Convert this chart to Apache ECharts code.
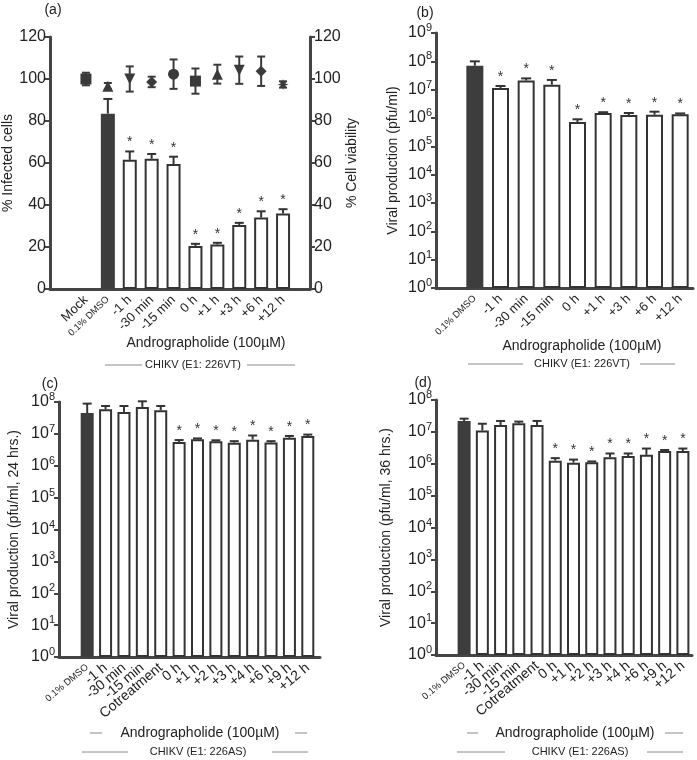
<!DOCTYPE html>
<html><head><meta charset="utf-8">
<script src="https://cdn.jsdelivr.net/npm/echarts@6/dist/echarts.min.js"></script>
<style>html,body{margin:0;padding:0;background:#fff}#c{width:697px;height:760px}</style>
</head><body><div id="c"></div>
<script>
// ---------------- DATA ----------------
// Panel (a)
const catsA = ['Mock','0.1% DMSO','-1 h','-30 min','-15 min','0 h','+1 h','+3 h','+6 h','+12 h'];
const infectedA   = [null, 83.5, 61.5, 62, 59.5, 20.5, 21.2, 30.5, 34, 36];
const infectedHiA = [null, 90.5, 65.5, 64.3, 63, 21.5, 22, 31.5, 37, 38];
const sigA        = [0, 0, 1, 1, 1, 1, 1, 1, 1, 1];
const viabilityA    = [100, 96.6, 100, 98.6, 102.3, 99, 102.3, 104.2, 103.7, 97.4];
const viabilityErrA = [3, 1.5, 6, 2.5, 7, 6, 4.5, 6.5, 7, 1.5];
const ticksA = [0, 20, 40, 60, 80, 100, 120];

// Panel (b)
const catsB = ['0.1% DMSO','-1 h','-30 min','-15 min','0 h','+1 h','+3 h','+6 h','+12 h'];
const titerB   = [7e7, 1.15e7, 2.1e7, 1.5e7, 7.2e5, 1.5e6, 1.27e6, 1.3e6, 1.35e6];
const titerHiB = [1.0e8, 1.35e7, 2.5e7, 2.2e7, 9e5, 1.6e6, 1.5e6, 1.67e6, 1.45e6];
const sigB     = [0, 1, 1, 1, 1, 1, 1, 1, 1];
const expB = [0, 9];

// Panel (c)
const catsCD = ['0.1% DMSO','-1 h','-30 min','-15 min','Cotreatment','0 h','+1 h','+2 h','+3 h','+4 h','+6 h','+9 h','+12 h'];
const titerC   = [4.5e7, 5.9e7, 4.9e7, 7e7, 5.5e7, 5.6e6, 6.8e6, 5.9e6, 5.3e6, 6.6e6, 5.4e6, 7.5e6, 8.5e6];
const titerHiC = [8.9e7, 7.5e7, 7.5e7, 1.05e8, 7.5e7, 6.4e6, 7.2e6, 6.3e6, 5.9e6, 8.9e6, 5.9e6, 8.6e6, 9.5e6];
const sigC     = [0, 0, 0, 0, 0, 1, 1, 1, 1, 1, 1, 1, 1];
const expC = [0, 8];

// Panel (d)
const titerD   = [2.2e7, 1.1e7, 1.65e7, 1.85e7, 1.65e7, 1.25e6, 1.08e6, 1.12e6, 1.6e6, 1.75e6, 1.9e6, 2.5e6, 2.5e6];
const titerHiD = [2.6e7, 1.8e7, 2.2e7, 2.1e7, 2.2e7, 1.5e6, 1.35e6, 1.18e6, 2.1e6, 2.1e6, 3.0e6, 2.7e6, 3.0e6];
const sigD     = [0, 0, 0, 0, 0, 1, 1, 1, 1, 1, 1, 1, 1];
const expD = [0, 8];

// ---------------- STYLE ----------------
const FONT = '"Liberation Sans", Arial, sans-serif';
const AX = '#454545', INK = '#333', DARK = '#3d3d3d', TXT = '#222';
const starPath = (function () {
  let d = 'path://';
  for (let k = 0; k < 16; k++) {
    const r = k % 2 ? 2.2 : 5, a = Math.PI * k / 8 - Math.PI / 2;
    d += (k ? 'L' : 'M') + (5 + r * Math.cos(a)).toFixed(2) + ',' + (5 + r * Math.sin(a)).toFixed(2);
  }
  return d + 'Z';
})();
const invTri = 'path://M0,0L10,0L5,9Z';
const SYMS_A = ['rect', 'triangle', invTri, 'diamond', 'circle', 'rect', 'triangle', invTri, 'diamond', starPath];

const grids = [], xAxes = [], yAxes = [], series = [], graphics = [];

function errUp(cap) {
  return function (params, api) {
    const x = api.value(0), v = api.value(1), hi = api.value(2), s = api.value(3);
    const p0 = api.coord([x, v]), p1 = api.coord([x, hi]);
    const st = { stroke: INK, lineWidth: 2 };
    const ch = [
      { type: 'line', shape: { x1: p0[0], y1: p0[1], x2: p1[0], y2: p1[1] }, style: st },
      { type: 'line', shape: { x1: p1[0] - cap, y1: p1[1], x2: p1[0] + cap, y2: p1[1] }, style: st }
    ];
    if (s) ch.push({ type: 'text', style: { text: '*', x: p1[0], y: p1[1] - 2, align: 'center', verticalAlign: 'bottom', fontSize: 14, fill: INK, fontFamily: FONT } });
    return { type: 'group', children: ch };
  };
}
function errBoth(cap) {
  return function (params, api) {
    const x = api.value(0), v = api.value(1), e = api.value(2);
    const a = api.coord([x, v - e]), b = api.coord([x, v + e]);
    const st = { stroke: '#3a3a3a', lineWidth: 2 };
    return { type: 'group', children: [
      { type: 'line', shape: { x1: a[0], y1: a[1], x2: b[0], y2: b[1] }, style: st },
      { type: 'line', shape: { x1: a[0] - cap, y1: a[1], x2: a[0] + cap, y2: a[1] }, style: st },
      { type: 'line', shape: { x1: b[0] - cap, y1: b[1], x2: b[0] + cap, y2: b[1] }, style: st }
    ] };
  };
}

function panel(c) {
  const gF = grids.length;
  grids.push({ left: c.frame[0], top: c.top, width: c.frame[1] - c.frame[0], height: c.height });
  const gD = grids.length;
  grids.push({ left: c.data[0], top: c.top, width: c.data[1] - c.data[0], height: c.height });
  xAxes.push({ gridIndex: gF, type: 'value', min: 0, max: 1, position: 'bottom',
    axisLine: { show: true, onZero: false, lineStyle: { color: AX, width: 3 } },
    axisTick: { show: false }, axisLabel: { show: false }, splitLine: { show: false } });
  const xD = xAxes.length;
  xAxes.push({ gridIndex: gD, type: 'category',
    data: c.cats.map(s => s.indexOf('DMSO') >= 0 ? { value: s, textStyle: { fontSize: 9.5 } } : s),
    axisLine: { show: false }, axisTick: { show: false }, splitLine: { show: false },
    axisLabel: { interval: 0, rotate: c.rot, fontSize: c.labelSize, color: TXT, margin: 9, fontFamily: FONT } });
  const scale = c.log
    ? { type: 'log', logBase: 10, min: Math.pow(10, c.exps[0]), max: Math.pow(10, c.exps[1]), splitNumber: c.exps[1] - c.exps[0] }
    : { type: 'value', min: c.ticks[0], max: c.ticks[c.ticks.length - 1], interval: c.ticks[1] - c.ticks[0] };
  const label = c.log
    ? { formatter: v => '{b|10}{s|' + Math.round(Math.log10(v)) + '}', margin: 4,
        rich: { b: { fontSize: 16, color: TXT, fontFamily: FONT }, s: { fontSize: 11, color: TXT, fontFamily: FONT, padding: [0, 0, 10, 0] } } }
    : { fontSize: 16, color: TXT, margin: 4, fontFamily: FONT };
  const common = {
    gridIndex: gF, nameLocation: 'middle', nameRotate: 90,
    nameTextStyle: { fontSize: 14, color: TXT, fontFamily: FONT },
    axisLine: { show: true, onZero: false, lineStyle: { color: AX, width: 3 } },
    axisTick: { show: true, length: 5, lineStyle: { color: AX, width: 2 } },
    minorTick: { show: false }, splitLine: { show: false }, axisLabel: label
  };
  yAxes.push(Object.assign({}, common, scale, { position: 'left', name: c.yName, nameGap: c.nameGap }));
  if (c.rightName) yAxes.push(Object.assign({}, common, scale, { position: 'right', name: c.rightName, nameGap: c.rightGap }));
  const yD = yAxes.length;
  yAxes.push(Object.assign({ gridIndex: gD, show: false, splitLine: { show: false } }, scale));

  series.push({ type: 'bar', xAxisIndex: xD, yAxisIndex: yD, barWidth: c.barW, z: 2,
    itemStyle: { color: '#fff', borderColor: INK, borderWidth: 2 },
    data: c.values.map(v => v == null ? '-' : v).map((v, i) => (c.cats[i].indexOf('DMSO') >= 0 && v !== '-')
      ? { value: v, itemStyle: { color: DARK, borderColor: DARK } } : v) });
  series.push({ type: 'custom', xAxisIndex: xD, yAxisIndex: yD, z: 3, renderItem: errUp(c.cap),
    data: c.values.map((v, i) => v == null ? null : [i, v, c.hi[i], c.sig[i]]).filter(Boolean) });
  if (c.viab) {
    series.push({ type: 'custom', xAxisIndex: xD, yAxisIndex: yD, z: 4, renderItem: errBoth(4),
      data: c.viab.map((v, i) => [i, v, c.viabErr[i]]) });
    series.push({ type: 'scatter', xAxisIndex: xD, yAxisIndex: yD, z: 5, symbolSize: 11,
      itemStyle: { color: '#3a3a3a', opacity: 1 },
      data: c.viab.map((v, i) => ({ value: [i, v], symbol: SYMS_A[i] })) });
  }
  graphics.push({ type: 'text', x: c.letter[0], y: c.letter[1], style: { text: c.letterText, fontSize: 14, fill: TXT, fontFamily: FONT, align: 'center', verticalAlign: 'middle' } });
  graphics.push({ type: 'text', x: c.andro[0], y: c.andro[1], style: { text: 'Andrographolide (100\u00b5M)', fontSize: 14, fill: TXT, fontFamily: FONT, align: 'center', verticalAlign: 'middle' } });
  graphics.push({ type: 'text', x: c.chikv[0], y: c.chikv[1], style: { text: c.chikvText, fontSize: 11, fill: TXT, fontFamily: FONT, align: 'center', verticalAlign: 'middle' } });
  (c.lines || []).forEach(l => graphics.push({ type: 'line', shape: { x1: l[0], y1: l[2], x2: l[1], y2: l[2] }, style: { stroke: '#8a8a8a', lineWidth: 1 } }));
}

panel({ frame: [50, 310], data: [75, 294], top: 37, height: 252, cats: catsA, values: infectedA, hi: infectedHiA, sig: sigA,
  ticks: ticksA, yName: '% Infected cells', nameGap: 28, rightName: '% Cell viability', rightGap: 35,
  viab: viabilityA, viabErr: viabilityErrA, barW: 14, cap: 4.5, rot: 44, labelSize: 13,
  letter: [53, 10], letterText: '(a)', andro: [206, 343], chikv: [193, 365], chikvText: 'CHIKV (E1: 226VT)',
  lines: [[105, 142, 365], [247, 295, 365]] });

panel({ frame: [436, 693], data: [462, 693], top: 33, height: 255, cats: catsB, values: titerB, hi: titerHiB, sig: sigB,
  log: true, exps: expB, yName: 'Viral production (pfu/ml)', nameGap: 36, barW: 17, cap: 5, rot: 44, labelSize: 13,
  letter: [425, 13], letterText: '(b)', andro: [582, 346], chikv: [582, 364], chikvText: 'CHIKV (E1: 226VT)',
  lines: [[468, 523, 364], [640, 675, 364]] });

panel({ frame: [59, 320], data: [78, 317], top: 402, height: 255, cats: catsCD, values: titerC, hi: titerHiC, sig: sigC,
  log: true, exps: expC, yName: 'Viral production (pfu/ml, 24 hrs.)', nameGap: 38, barW: 13, cap: 4.5, rot: 40, labelSize: 14,
  letter: [50, 384], letterText: '(c)', andro: [200, 733], chikv: [198, 752], chikvText: 'CHIKV (E1: 226AS)',
  lines: [[90, 102, 733], [295, 307, 733], [82, 128, 752], [272, 308, 752]] });

panel({ frame: [436, 692], data: [455, 692], top: 400, height: 255, cats: catsCD, values: titerD, hi: titerHiD, sig: sigD,
  log: true, exps: expD, yName: 'Viral production (pfu/ml, 36 hrs.)', nameGap: 43, barW: 13, cap: 4.5, rot: 40, labelSize: 14,
  letter: [423, 383], letterText: '(d)', andro: [575, 733], chikv: [580, 752], chikvText: 'CHIKV (E1: 226AS)',
  lines: [[467, 478, 733], [665, 683, 733], [457, 505, 752], [647, 683, 752]] });

const chart = echarts.init(document.getElementById('c'), null, { renderer: 'canvas' });
chart.setOption({ animation: false, backgroundColor: '#fff', textStyle: { fontFamily: FONT },
  grid: grids, xAxis: xAxes, yAxis: yAxes, series: series, graphic: graphics });
</script></body></html>
